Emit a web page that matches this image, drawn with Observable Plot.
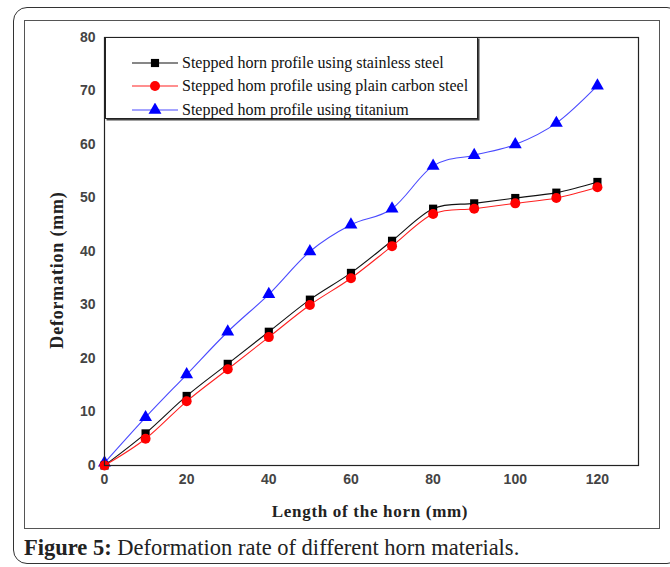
<!DOCTYPE html>
<html>
<head>
<meta charset="utf-8">
<script src="https://cdn.jsdelivr.net/npm/d3@7"></script>
<script src="https://cdn.jsdelivr.net/npm/@observablehq/plot@0.6"></script>
<style>
  body { margin: 0; background: #fff; }
  #wrap { position: relative; width: 670px; height: 567px; overflow: hidden; font-family: "Liberation Serif", "Times New Roman", serif; }
  #outer { position: absolute; left: 13px; top: 7px; width: 668px; height: 557px; border: 1.3px solid #333; border-radius: 14px; box-sizing: border-box; }
  #inner { position: absolute; left: 24px; top: 20px; width: 636px; height: 509px; border: 1px solid #555; box-sizing: border-box; }
  #chart { position: absolute; left: 24px; top: 20px; }
  #legend { position: absolute; left: 105px; top: 37px; width: 373px; height: 82px; border: 1px solid #222; box-shadow: 1.5px 1.5px 0 #444; background: #fff; box-sizing: border-box; }
  .row { position: absolute; left: 0; height: 20px; display: flex; align-items: center; font-size: 16px; color: #111; white-space: nowrap; }
  .row svg { margin-left: 26px; margin-right: 4px; }
  #xtitle { position: absolute; left: 0; width: 740px; top: 502px; text-align: center; font-weight: bold; font-size: 17px; letter-spacing: 0.7px; color: #222; }
  #ytitle { position: absolute; left: 57px; top: 270px; transform: translate(-50%, -50%) rotate(-90deg); font-weight: bold; font-size: 18px; letter-spacing: 0.8px; color: #222; white-space: nowrap; }
  #caption { position: absolute; left: 24px; top: 535px; font-size: 22.5px; color: #222; white-space: nowrap; }
</style>
</head>
<body>
<div id="wrap">
  <div id="outer"></div>
  <div id="inner"></div>
  <div id="chart"></div>
  <div id="legend"></div>
  <div id="xtitle"></div>
  <div id="ytitle"></div>
  <div id="caption"></div>
</div>
<script>
const lengths = [0, 10, 20, 30, 40, 50, 60, 70, 80, 90, 100, 110, 120];
const stainless = [0, 6, 13, 19, 25, 31, 36, 42, 48, 49, 50, 51, 53];
const carbon = [0, 5, 12, 18, 24, 30, 35, 41, 47, 48, 49, 50, 52];
const titanium = [0.5, 9, 17, 25, 32, 40, 45, 48, 56, 58, 60, 64, 71];
const seriesNames = [
  "Stepped horn profile using stainless steel",
  "Stepped hom profile using plain carbon steel",
  "Stepped hom profile using titanium"
];
const xTicks = [0, 20, 40, 60, 80, 100, 120];
const yTicks = [0, 10, 20, 30, 40, 50, 60, 70, 80];
const xTitle = "Length of the horn (mm)";
const yTitle = "Deformation (mm)";
const captionBold = "Figure 5:";
const captionText = " Deformation rate of different horn materials.";

const styles = [
  {line: "#111", fill: "#000", symbol: "square", r: 4.6},
  {line: "#ff2020", fill: "#ff0000", symbol: "circle", r: 5},
  {line: "#4a4aff", fill: "#0000ff", symbol: "triangle", r: 4.8}
];
const valueSets = [stainless, carbon, titanium];
const data = [];
valueSets.forEach((vals, si) => vals.forEach((v, i) => data.push({series: seriesNames[si], si, x: lengths[i], y: v})));

const marks = [];
[2, 0, 1].forEach(si => {
  const d = data.filter(p => p.si === si);
  const s = styles[si];
  marks.push(Plot.line(d, {x: "x", y: "y", stroke: s.line, strokeWidth: 1.1, curve: "cardinal"}));
  marks.push(Plot.dot(d, {x: "x", y: "y", fill: s.fill, stroke: "none", symbol: () => s.symbol, r: s.r}));
});

const chart = Plot.plot({
  width: 636,
  height: 509,
  marginLeft: 80,
  marginTop: 17,
  marginRight: 22,
  marginBottom: 64,
  x: {domain: [0, 130], ticks: xTicks},
  y: {domain: [0, 80], ticks: yTicks},
  style: {fontFamily: "'Liberation Sans', Arial, sans-serif", background: "transparent"},
  marks: [
    Plot.axisX({ticks: xTicks, tickSize: 0, tickPadding: 9, label: null, fontSize: 14, fontWeight: "bold", fill: "#444"}),
    Plot.axisY({ticks: yTicks, tickSize: 0, tickPadding: 9, label: null, fontSize: 14, fontWeight: "bold", fill: "#444"}),
    ...marks,
    Plot.frame({stroke: "#222", strokeWidth: 1.2})
  ]
});
document.getElementById("chart").appendChild(chart);

const legend = document.getElementById("legend");
const rowTops = [15, 38, 62];
seriesNames.forEach((name, si) => {
  const s = styles[si];
  const row = document.createElement("div");
  row.className = "row";
  row.style.top = rowTops[si] + "px";
  const ns = "http://www.w3.org/2000/svg";
  const svg = document.createElementNS(ns, "svg");
  svg.setAttribute("width", 46); svg.setAttribute("height", 14);
  const ln = document.createElementNS(ns, "line");
  ln.setAttribute("x1", 0); ln.setAttribute("x2", 46); ln.setAttribute("y1", 7); ln.setAttribute("y2", 7);
  ln.setAttribute("stroke", s.line); ln.setAttribute("stroke-width", 1.2);
  svg.appendChild(ln);
  const p = document.createElementNS(ns, "path");
  const sym = {square: d3.symbolSquare, circle: d3.symbolCircle, triangle: d3.symbolTriangle}[s.symbol];
  p.setAttribute("d", d3.symbol(sym, Math.PI * s.r * s.r)());
  p.setAttribute("transform", "translate(23,7)");
  p.setAttribute("fill", s.fill);
  svg.appendChild(p);
  row.appendChild(svg);
  const t = document.createElement("span");
  t.textContent = name;
  row.appendChild(t);
  legend.appendChild(row);
});

document.getElementById("xtitle").textContent = xTitle;
document.getElementById("ytitle").textContent = yTitle;
const cap = document.getElementById("caption");
const b = document.createElement("b"); b.textContent = captionBold;
cap.appendChild(b);
cap.appendChild(document.createTextNode(captionText));
</script>
</body>
</html>
